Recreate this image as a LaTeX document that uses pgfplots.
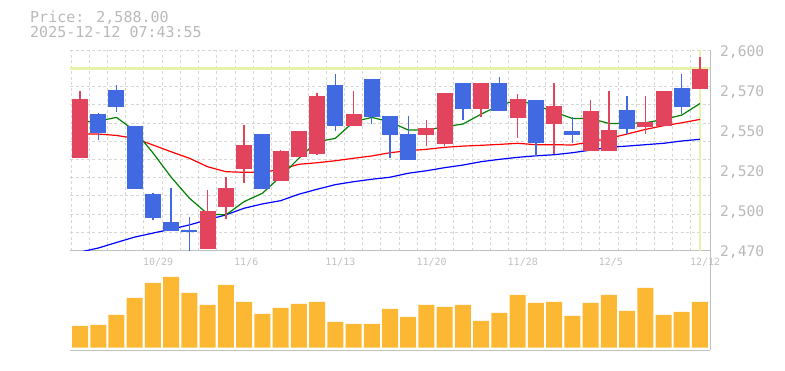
\documentclass[border=0pt]{standalone}
\usepackage{pgfplots}
\pgfplotsset{compat=1.18}
\usepackage{pgfplotstable}
\usepackage{fontspec}
\newfontfamily\dmono{DejaVu Sans Mono}
\definecolor{cup}{RGB}{226,68,94}
\definecolor{cdn}{RGB}{65,105,225}
\definecolor{vol}{RGB}{253,184,51}
\definecolor{hl}{RGB}{230,243,170}
\definecolor{gridc}{RGB}{215,215,215}
\definecolor{axc}{RGB}{192,192,192}
\definecolor{txt}{RGB}{185,185,185}
\definecolor{txtx}{RGB}{192,192,192}
\definecolor{magreen}{RGB}{0,128,0}

\pgfplotstableread{
i o h l c
0 2530.2 2573.3 2530.2 2568.1
7 2471.3 2509.3 2471.3 2495.7
8 2498.5 2517.5 2490.1 2510.6
9 2523.0 2551.3 2514.0 2538.4
11 2515.3 2535.1 2515.3 2534.5
12 2530.8 2547.4 2530.8 2547.4
13 2532.7 2572.0 2531.9 2570.1
15 2550.9 2573.3 2550.9 2558.4
19 2545.0 2554.5 2537.7 2549.4
20 2539.2 2572.0 2537.7 2572.0
22 2561.8 2578.5 2556.7 2578.5
24 2556.0 2571.4 2543.1 2568.1
26 2552.1 2578.5 2532.5 2563.6
28 2534.7 2567.5 2534.7 2560.4
29 2534.7 2573.3 2534.7 2548.1
31 2550.2 2570.1 2545.5 2553.4
32 2550.9 2573.3 2550.9 2573.3
34 2574.8 2595.6 2574.8 2588.0
}\upT

\pgfplotstableread{
i o h l c
1 2558.4 2559.3 2541.6 2545.9
2 2573.9 2577.2 2559.9 2563.1
3 2550.7 2550.7 2510.1 2510.1
4 2506.7 2507.5 2489.9 2491.3
5 2488.6 2510.6 2482.9 2482.9
6 2483.5 2492.0 2470.0 2482.3
10 2545.5 2545.5 2510.1 2510.1
14 2577.2 2584.3 2547.4 2550.9
16 2581.1 2581.1 2552.0 2556.7
17 2557.1 2557.1 2530.2 2545.0
18 2545.5 2557.1 2528.9 2528.9
21 2578.5 2578.5 2554.5 2561.8
23 2578.5 2582.4 2560.6 2560.6
25 2567.5 2567.5 2531.4 2539.9
27 2547.4 2556.3 2539.9 2545.0
30 2561.0 2570.1 2545.5 2548.7
33 2575.2 2584.3 2558.4 2563.1
}\dnT

\pgfplotstableread{
i g r b
0 2553.4 2545.5 2469.0
1 2553.9 2545.5 2471.6
2 2556.3 2544.6 2475.2
3 2547.6 2542.7 2478.7
4 2533.3 2538.4 2481.3
5 2517.5 2534.0 2483.8
6 2503.9 2529.8 2486.6
7 2493.7 2524.3 2489.9
8 2493.1 2521.1 2493.1
9 2501.7 2520.7 2497.4
10 2507.1 2520.7 2500.2
11 2517.9 2522.6 2502.3
12 2529.8 2525.9 2506.5
13 2540.5 2526.9 2509.7
14 2542.7 2528.2 2512.7
15 2553.4 2529.8 2514.6
16 2556.3 2531.3 2516.2
17 2553.4 2533.4 2517.5
18 2548.1 2534.7 2520.1
19 2548.1 2535.6 2521.7
20 2550.2 2536.9 2523.7
21 2552.0 2537.7 2525.4
22 2558.4 2538.2 2527.6
23 2564.2 2538.8 2529.1
24 2567.5 2539.5 2530.4
25 2564.2 2538.6 2531.4
26 2559.9 2538.6 2532.1
27 2555.6 2538.4 2533.4
28 2555.6 2540.5 2535.1
29 2552.4 2542.7 2536.9
30 2552.4 2545.5 2537.7
31 2552.8 2548.5 2538.6
32 2555.0 2550.9 2539.5
33 2557.8 2552.8 2541.0
34 2565.3 2555.0 2542.1
}\maT

\pgfplotstableread{
i v
0 65
1 68
2 98
3 149
4 194
5 212
6 164
7 128
8 188
9 137
10 101
11 119
12 131
13 137
14 77
15 71
16 71
17 116
18 92
19 128
20 122
21 128
22 80
23 104
24 158
25 134
26 137
27 95
28 134
29 158
30 110
31 179
32 98
33 107
34 137
}\volT

\pgfplotsset{candle/.style={only marks, mark=none, mark size=0pt,
  mark options={draw=none, fill=none}}}

\begin{document}
\begin{tikzpicture}
\useasboundingbox (0,0) rectangle (785pt,370pt);
\node[anchor=base west, inner sep=0pt, text=txt, font=\dmono\fontsize{15}{15}\selectfont] at (30pt,347.3pt) {Price: 2,588.00};
\node[anchor=base west, inner sep=0pt, text=txt, font=\dmono\fontsize{15}{15}\selectfont] at (30pt,332.7pt) {2025-12-12 07:43:55};

% volume panel
\begin{axis}[at={(70pt,20pt)}, anchor=south west, scale only axis,
  width=640pt, height=99.7pt,
  xmin=-0.55, xmax=34.55, ymin=-7, ymax=292, enlargelimits=false,
  axis x line=box, axis y line=right,
  axis line style={draw=axc, line width=1pt, -},
  xtick=\empty, ytick=\empty,
  minor xtick={-0.5,0.5,...,33.5}, xminorgrids,
  minor grid style={gridc, dash pattern=on 3pt off 2.5pt, line width=0.8pt},
  minor tick length=0pt, major tick length=0pt]
\addplot[ybar, bar width=16pt, bar shift=0pt, fill=vol, draw=none] table[x=i,y=v] {\volT};
\end{axis}

% price panel
\begin{axis}[at={(70pt,119.5pt)}, anchor=south west, scale only axis,
  width=640pt, height=200.5pt,
  xmin=-0.55, xmax=34.55, ymin=2470, ymax=2600, enlargelimits=false,
  axis x line=bottom, axis y line=right,
  axis line style={draw=axc, line width=1pt, -},
  xtick={3.5,8.5,13.5,18.5,23.5,28.5,33.5},
  xticklabels={10/29,11/6,11/13,11/20,11/28,12/5,12/12},
  ytick={2470,2496,2522,2548,2574,2600},
  yticklabels={{2,470},{2,500},{2,520},{2,550},{2,570},{2,600}},
  minor xtick={-0.5,0.5,...,33.5},
  minor ytick={2481.82,2493.64,2505.45,2517.27,2529.09,2540.91,2552.73,2564.55,2576.36,2588.18,2600},
  xminorgrids, yminorgrids,
  minor grid style={gridc, dash pattern=on 3pt off 2.5pt, line width=0.8pt},
  minor tick length=0pt, major tick length=0pt,
  xticklabel style={anchor=north west, inner sep=0pt, xshift=-1pt, yshift=-7pt, text=txtx, font=\dmono\fontsize{10}{10}\selectfont},
  yticklabel style={anchor=west, inner sep=0pt, xshift=10pt, yshift=-2pt, text=txt, font=\dmono\fontsize{14.6}{14.6}\selectfont}]
\addplot[hl, line width=2.7pt, mark=none] coordinates {(-0.55,2588) (34.55,2588)};
\addplot[hl, line width=2.7pt, mark=none] coordinates {(34,2470) (34,2600)};
\addplot[blue, line width=1.2pt, mark=none] table[x=i,y=b] {\maT};
\addplot[red, line width=1.2pt, mark=none] table[x=i,y=r] {\maT};
\addplot[magreen, line width=1.2pt, mark=none] table[x=i,y=g] {\maT};
% wicks
\addplot[candle, error bars/.cd, y dir=both, y explicit, error mark=none,
  error bar style={draw=cup, line width=1.4pt}]
  table[x=i, y expr={(\thisrow{h}+\thisrow{l})/2}, y error expr={(\thisrow{h}-\thisrow{l})/2}] {\upT};
\addplot[candle, error bars/.cd, y dir=both, y explicit, error mark=none,
  error bar style={draw=cdn, line width=1.4pt}]
  table[x=i, y expr={(\thisrow{h}+\thisrow{l})/2}, y error expr={(\thisrow{h}-\thisrow{l})/2}] {\dnT};
% bodies
\addplot[candle, error bars/.cd, y dir=both, y explicit, error mark=none,
  error bar style={draw=cup, line width=16pt}]
  table[x=i, y expr={(\thisrow{o}+\thisrow{c})/2}, y error expr={abs(\thisrow{c}-\thisrow{o})/2}] {\upT};
\addplot[candle, error bars/.cd, y dir=both, y explicit, error mark=none,
  error bar style={draw=cdn, line width=16pt}]
  table[x=i, y expr={(\thisrow{o}+\thisrow{c})/2}, y error expr={abs(\thisrow{c}-\thisrow{o})/2}] {\dnT};
\end{axis}
\end{tikzpicture}
\end{document}
